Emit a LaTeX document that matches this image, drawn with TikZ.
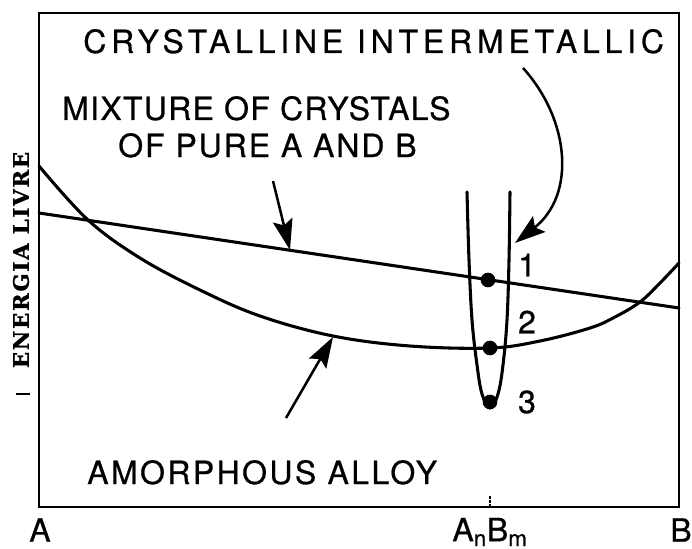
\documentclass[tikz,border=0pt]{standalone}
\usepackage{fontspec}
\setmainfont{TeX Gyre Heros}[FakeBold=0.6]
\newcommand\lsp[1]{\addfontfeature{LetterSpace=#1}}
\newfontfamily\axisfont{DejaVu Serif}[LetterSpace=8, FakeBold=1.2]
\usetikzlibrary{arrows.meta}
\tikzset{
  curve/.style={line width=2.3pt, line cap=round, line join=round},
  frame/.style={line width=1.5pt},
  pointer/.style={line width=1.9pt, -{Stealth[length=23pt,width=15pt,inset=4pt]}},
  lbl/.style={font=\fontsize{24}{26}\selectfont, inner sep=0pt, anchor=base west},
  num/.style={font=\fontsize{24}{26}\selectfont, inner sep=0pt},
  dot/.style={circle, fill=black, inner sep=0pt, minimum size=11pt},
}
\begin{document}
\begin{tikzpicture}[x=0.75pt,y=-0.75pt]
\useasboundingbox (0,0) rectangle (692,549);
% frame
\draw[frame] (39,13) rectangle (679,507);
\coordinate (tickTop) at (490,496);
\coordinate (tickBot) at (490,507);
\draw[line width=0.9pt, dash pattern=on 2pt off 1pt] (tickTop) -- (tickBot);
\coordinate (dashL) at (16,394);
\coordinate (dashR) at (30,394);
\draw[line width=0.8pt] (dashL) -- (dashR);
% mixture line
\coordinate (mL) at (39,213);
\coordinate (mR) at (679,308);
\draw[curve] (mL) -- (mR);
% amorphous curve
\draw[curve] plot[smooth, tension=0.6] coordinates {(39,166) (88,220) (140,258) (200,290) (260,316) (333,336) (410,346) (490,348) (540,341) (590,328) (615,317) (640,302) (660,283) (679,263)};
% intermetallic U
\draw[curve] plot[smooth, tension=0.6] coordinates {(467,192) (469,260) (472,320) (477,365) (482,394) (490,408) (498,394) (503,365) (507,320) (509,260) (510,192)};
% dots
\node[dot] (d1) at (488,280) {};
\node[dot] (d2) at (490,348) {};
\node[dot] (d3) at (490,402) {};
% labels
\node[lbl] (cryst) at (83,53) {\lsp{15}CRYSTALLINE INTERMETALLIC};
\node[lbl] (mix1) at (62,120) {\lsp{4}MIXTURE OF CRYSTALS};
\node[lbl] (mix2) at (118,157) {\lsp{6}OF PURE A AND B};
\node[lbl] (amor) at (87,484) {\lsp{7.5}AMORPHOUS ALLOY};
\node[num] (n1) at (527,265) {1};
\node[num] (n2) at (527,322) {2};
\node[num] (n3) at (527,402) {3};
\node[num] (lA) at (40,530) {A};
\node[num] (lAB) at (490,532) {A\textsubscript{n}B\textsubscript{m}};
\node[num] (lB) at (681,530) {B};
\node[font=\axisfont\bfseries\fontsize{16}{17}\selectfont, rotate=90, inner sep=0pt] (elab) at (21,260) {ENERGIA LIVRE};
% pointers
\coordinate (tipMix) at (290,250);
\coordinate (tailMix) at (273,181);
\draw[pointer] (tailMix) -- (tipMix);
\coordinate (tipAm) at (333,337);
\coordinate (tailAm) at (286,418);
\draw[pointer] (tailAm) -- (tipAm);
\coordinate (tailCr) at (523,68);
\coordinate (tipCr) at (515,243);
\draw[pointer] (tailCr) .. controls (570,120) and (576,195) .. (tipCr);
\end{tikzpicture}
\end{document}
